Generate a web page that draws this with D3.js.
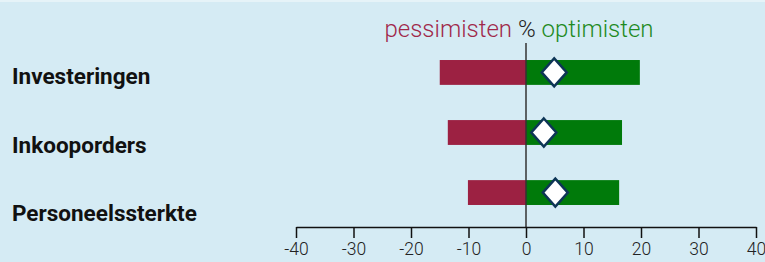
<!DOCTYPE html>
<html>
<head>
<meta charset="utf-8">
<script src="https://cdn.jsdelivr.net/npm/d3@7"></script>
<style>
  body { margin: 0; background: #d5ebf4; }
  svg { display: block; font-family: Roboto, sans-serif; }
</style>
</head>
<body>
<div id="container"></div>
<script>
// categories and values (percent of respondents)
const categories = ["Investeringen", "Inkooporders", "Personeelssterkte"];
const pessimists = [15, 13.6, 10.1];
const optimists = [19.8, 16.7, 16.2];
const balance = [4.9, 3.1, 5.1];
const ticks = [-40, -30, -20, -10, 0, 10, 20, 30, 40];

const width = 765, height = 262;

const svg = d3.create("svg")
  .attr("width", width)
  .attr("height", height);

svg.append("rect").attr("width", width).attr("height", height).attr("fill", "#d5ebf4");
svg.append("rect").attr("width", width).attr("height", 2).attr("fill", "#e6f3f8");

// scales
const x = d3.scaleLinear().domain([-40, 40]).range([296, 756]);
const yBar = d3.scaleBand().domain(categories).range([42, 223]).paddingInner(0.586).paddingOuter(0.3);

// row labels
svg.selectAll(".label")
  .data(categories)
  .enter().append("text")
  .attr("x", 12)
  .attr("y", (d, i) => 84 + i * 68.5)
  .attr("font-size", 22.5)
  .attr("font-weight", 700)
  .attr("fill", "#111")
  .text(d => d);

// pessimists bars (left of zero)
svg.selectAll(".pes")
  .data(categories)
  .enter().append("rect")
  .attr("x", (d, i) => x(-pessimists[i]))
  .attr("y", d => yBar(d))
  .attr("width", (d, i) => x(0) - x(-pessimists[i]))
  .attr("height", yBar.bandwidth())
  .attr("fill", "#9c2142");

// optimists bars
svg.selectAll(".opt")
  .data(categories)
  .enter().append("rect")
  .attr("x", x(0))
  .attr("y", d => yBar(d))
  .attr("width", (d, i) => x(optimists[i]) - x(0))
  .attr("height", yBar.bandwidth())
  .attr("fill", "#007a0a");

// zero line
svg.append("line")
  .attr("x1", x(0)).attr("x2", x(0))
  .attr("y1", 43).attr("y2", 227)
  .attr("stroke", "#333")
  .attr("stroke-width", 1.5);

// balance diamonds
svg.selectAll(".saldo")
  .data(categories)
  .enter().append("path")
  .attr("transform", (d, i) => `translate(${x(balance[i])},${yBar(d) + yBar.bandwidth() / 2})`)
  .attr("d", "M0,-14L12.5,0L0,14L-12.5,0Z")
  .attr("fill", "#fff")
  .attr("stroke", "#0d3556")
  .attr("stroke-width", 2.5);

// axis
const axis = svg.append("g")
  .attr("transform", "translate(0,227)")
  .call(d3.axisBottom(x).tickValues(ticks).tickFormat(d => String(d))
    .tickSize(11).tickSizeOuter(0).tickPadding(5));
axis.select(".domain").attr("stroke", "#111").attr("stroke-width", 1.5);
axis.selectAll(".tick line").attr("stroke", "#111").attr("stroke-width", 1.5);
axis.selectAll(".tick text")
  .attr("font-family", "Roboto, sans-serif")
  .attr("font-weight", 300)
  .attr("font-size", 17.5)
  .attr("fill", "#222");

// header
const head = svg.append("text")
  .attr("x", x(0) - 7)
  .attr("y", 37)
  .attr("text-anchor", "middle")
  .attr("font-size", 24)
  .attr("font-weight", 300);
head.append("tspan").attr("fill", "#a0284a").text("pessimisten ");
head.append("tspan").attr("fill", "#222").text("%");
head.append("tspan").attr("fill", "#1e8a1e").text(" optimisten");

document.getElementById("container").append(svg.node());
</script>
</body>
</html>
